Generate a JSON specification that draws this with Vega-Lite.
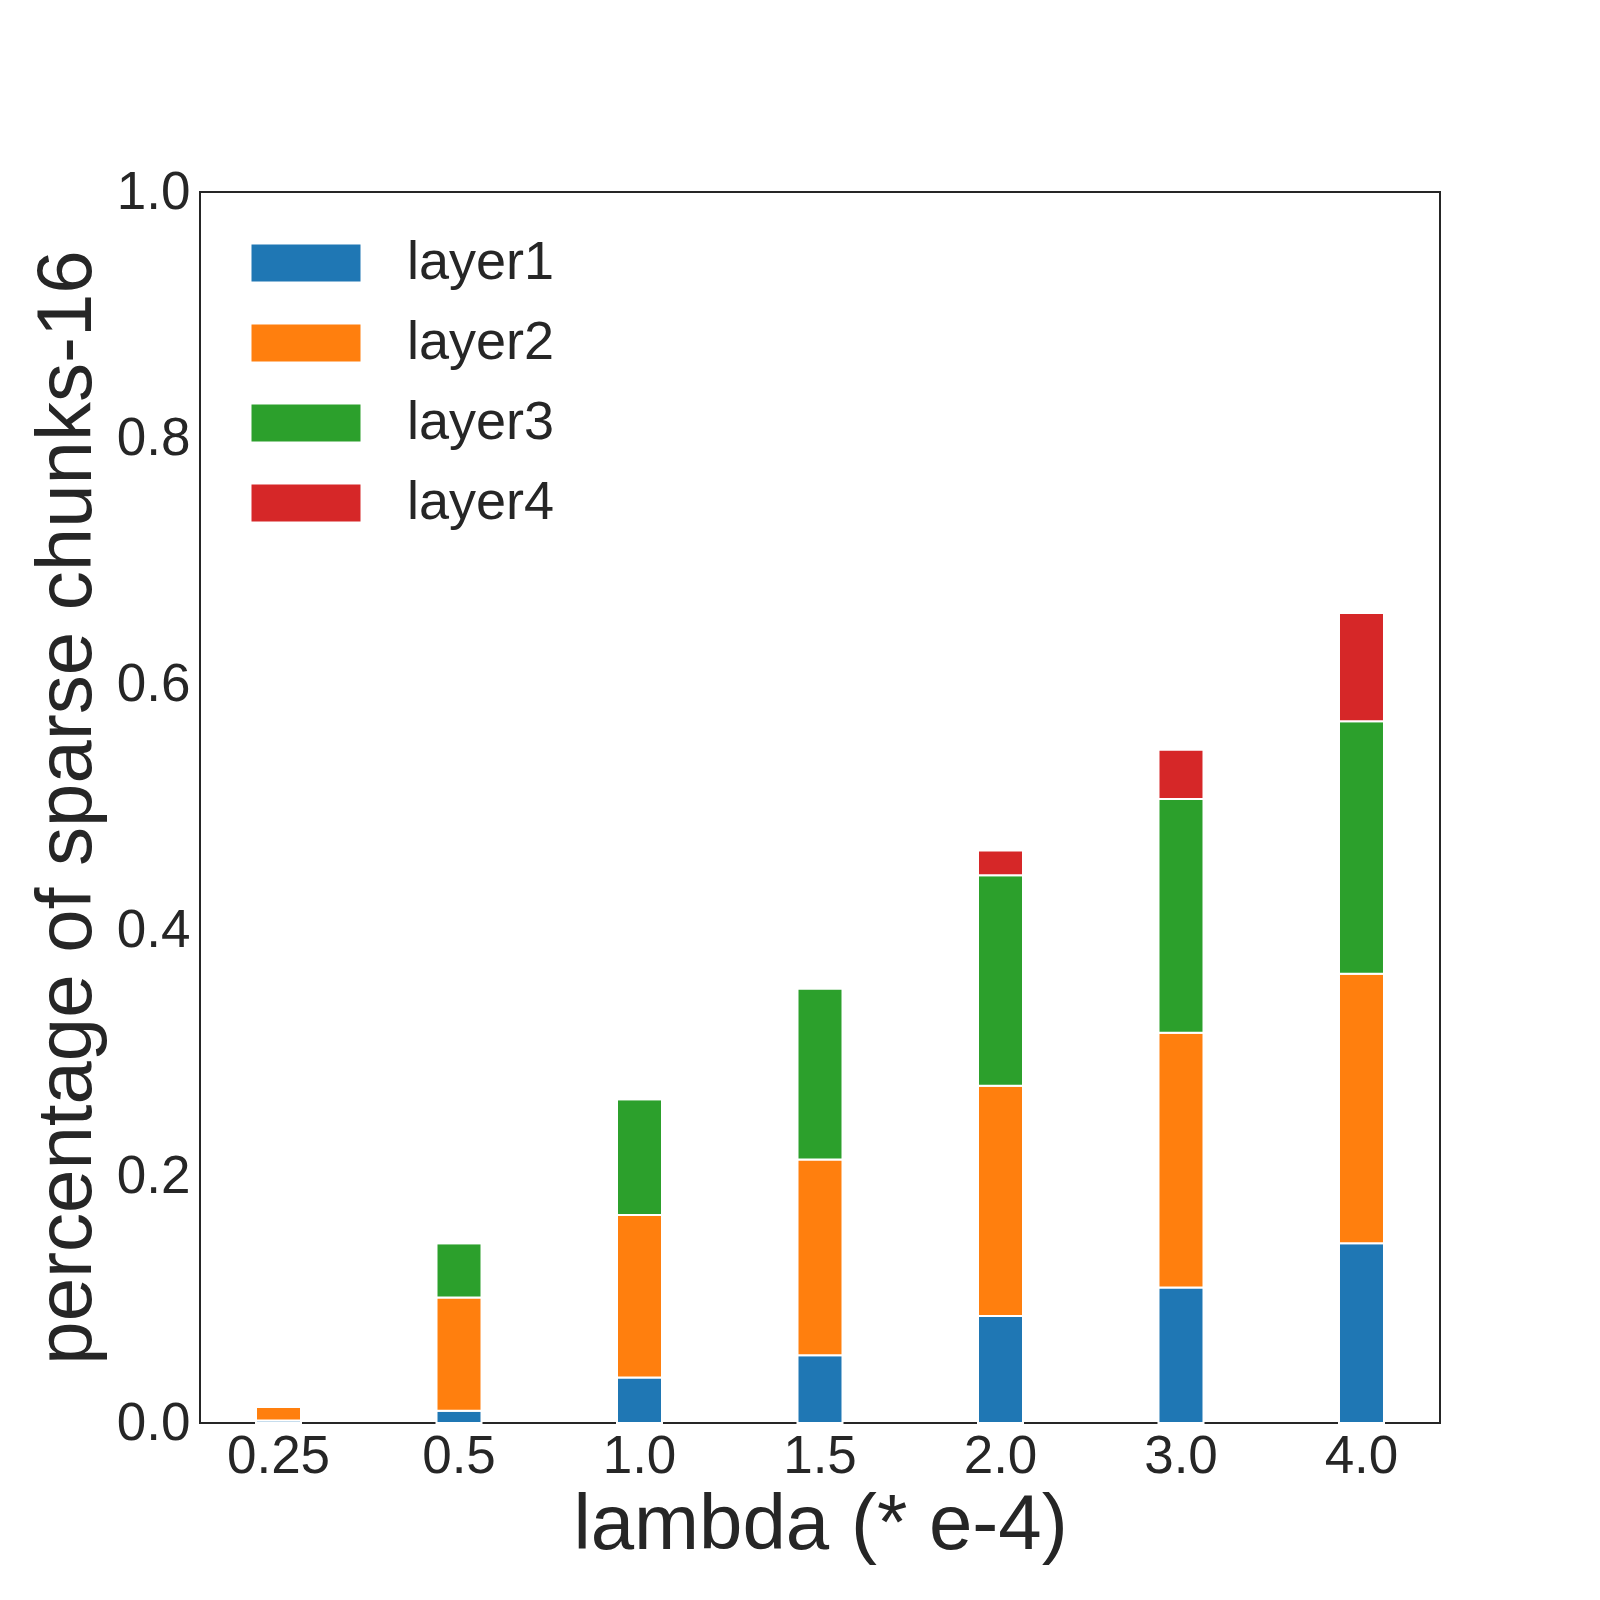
{
  "$schema": "https://vega.github.io/schema/vega-lite/v6.json",
  "width": 1240,
  "height": 1231,
  "autosize": {"type": "none"},
  "padding": {"left": 200, "top": 192, "right": 160, "bottom": 177},
  "background": "white",
  "data": {
    "values": [
      {"lambda": "0.25", "layer": "layer1", "value": 0.002},
      {"lambda": "0.25", "layer": "layer2", "value": 0.011},
      {"lambda": "0.25", "layer": "layer3", "value": 0.0},
      {"lambda": "0.25", "layer": "layer4", "value": 0.0},
      {"lambda": "0.5", "layer": "layer1", "value": 0.010},
      {"lambda": "0.5", "layer": "layer2", "value": 0.092},
      {"lambda": "0.5", "layer": "layer3", "value": 0.044},
      {"lambda": "0.5", "layer": "layer4", "value": 0.0},
      {"lambda": "1.0", "layer": "layer1", "value": 0.037},
      {"lambda": "1.0", "layer": "layer2", "value": 0.132},
      {"lambda": "1.0", "layer": "layer3", "value": 0.094},
      {"lambda": "1.0", "layer": "layer4", "value": 0.0},
      {"lambda": "1.5", "layer": "layer1", "value": 0.055},
      {"lambda": "1.5", "layer": "layer2", "value": 0.159},
      {"lambda": "1.5", "layer": "layer3", "value": 0.139},
      {"lambda": "1.5", "layer": "layer4", "value": 0.0},
      {"lambda": "2.0", "layer": "layer1", "value": 0.087},
      {"lambda": "2.0", "layer": "layer2", "value": 0.187},
      {"lambda": "2.0", "layer": "layer3", "value": 0.171},
      {"lambda": "2.0", "layer": "layer4", "value": 0.020},
      {"lambda": "3.0", "layer": "layer1", "value": 0.110},
      {"lambda": "3.0", "layer": "layer2", "value": 0.207},
      {"lambda": "3.0", "layer": "layer3", "value": 0.190},
      {"lambda": "3.0", "layer": "layer4", "value": 0.040},
      {"lambda": "4.0", "layer": "layer1", "value": 0.146},
      {"lambda": "4.0", "layer": "layer2", "value": 0.219},
      {"lambda": "4.0", "layer": "layer3", "value": 0.205},
      {"lambda": "4.0", "layer": "layer4", "value": 0.088}
    ]
  },
  "mark": {"type": "bar", "stroke": "white", "strokeWidth": 2},
  "encoding": {
    "x": {
      "field": "lambda",
      "type": "ordinal",
      "sort": null,
      "scale": {"paddingInner": 0.7507, "paddingOuter": 0.3103},
      "axis": {
        "title": "lambda (* e-4)",
        "labelAngle": 0,
        "labelPadding": 7,
        "titleX": 620,
        "titleY": 125,
        "titleAlign": "center",
        "titleBaseline": "alphabetic"
      }
    },
    "y": {
      "field": "value",
      "type": "quantitative",
      "stack": "zero",
      "scale": {"domain": [0, 1], "nice": false},
      "axis": {
        "title": "percentage of sparse chunks-16",
        "values": [0, 0.2, 0.4, 0.6, 0.8, 1.0],
        "format": ".1f",
        "labelPadding": 10,
        "titleX": -110,
        "titleY": 615,
        "titleAngle": 270,
        "titleAlign": "center",
        "titleBaseline": "alphabetic"
      }
    },
    "color": {
      "field": "layer",
      "type": "nominal",
      "scale": {
        "domain": ["layer1", "layer2", "layer3", "layer4"],
        "range": ["#1f77b4", "#ff7f0e", "#2ca02c", "#d62728"]
      },
      "legend": {
        "title": null,
        "orient": "none",
        "legendX": 79,
        "legendY": 44,
        "padding": 0,
        "symbolType": "M-2.946,-1H2.946V1H-2.946Z",
        "symbolSize": 1369,
        "symbolStrokeWidth": 0,
        "symbolOpacity": 1,
        "labelOffset": 74,
        "rowPadding": 26,
        "labelFontSize": 54,
        "labelFont": "Liberation Sans",
        "labelColor": "#262626"
      }
    },
    "order": {"field": "layer", "sort": "ascending"}
  },
  "config": {
    "view": {"stroke": "#262626", "strokeWidth": 2},
    "axis": {
      "domain": false,
      "ticks": false,
      "tickSize": 0,
      "grid": false,
      "labelFont": "Liberation Sans",
      "labelFontSize": 53,
      "labelColor": "#262626",
      "titleFont": "Liberation Sans",
      "titleFontSize": 78,
      "titleFontWeight": "normal",
      "titleColor": "#262626"
    }
  }
}
